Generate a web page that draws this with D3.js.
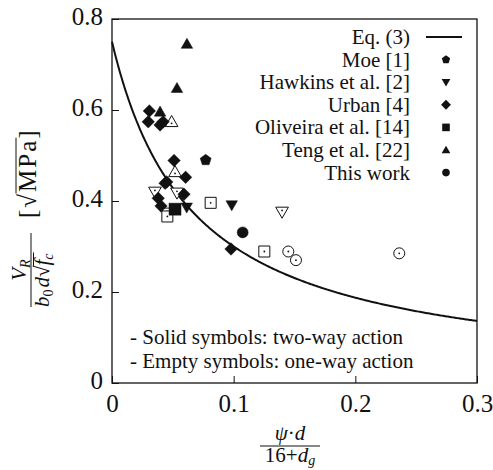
<!DOCTYPE html>
<html><head><meta charset="utf-8">
<script src="https://cdn.jsdelivr.net/npm/d3@7"></script>
<style>body{margin:0;background:#fff} svg text{font-family:"Liberation Serif","DejaVu Serif",serif;}</style>
</head><body><svg id="chart" width="493" height="470"></svg>
<script>
// Axis ticks
const xTicks = [0, 0.1, 0.2, 0.3];
const yTicks = [0, 0.2, 0.4, 0.6, 0.8];

// Test data [psi*d/(16+dg), V_R/(b0 d sqrt(fc))]
const moeSolid      = [[0.077, 0.490]];
const hawkinsSolid  = [[0.0984, 0.391], [0.0614, 0.386]];
const hawkinsEmpty  = [[0.0353, 0.420], [0.0534, 0.418], [0.1398, 0.376], [0.0452, 0.374]];
const urbanSolid    = [[0.0307, 0.598], [0.0298, 0.574], [0.0395, 0.567], [0.042, 0.574],
                       [0.051, 0.489], [0.0605, 0.452], [0.0436, 0.439], [0.045, 0.442],
                       [0.038, 0.406], [0.0403, 0.389], [0.0592, 0.415], [0.0978, 0.2945]];
const oliveiraSolid = [[0.0518, 0.382]];
const oliveiraEmpty = [[0.0455, 0.366], [0.0811, 0.396], [0.1252, 0.289]];
const tengSolid     = [[0.0616, 0.745], [0.0534, 0.648], [0.0395, 0.596]];
const tengEmpty     = [[0.049, 0.574], [0.0518, 0.464]];
const thisSolid     = [[0.1074, 0.331]];
const thisEmpty     = [[0.1449, 0.289], [0.1512, 0.270], [0.2361, 0.285]];

// Eq. (3): V_R/(b0 d sqrt(fc)) = a / (1 + b * psi d/(16+dg))
const eqA = 0.75, eqB = 15;

const legendLabels = ["Eq. (3)", "Moe [1]", "Hawkins et al. [2]", "Urban [4]",
                      "Oliveira et al. [14]", "Teng et al. [22]", "This work"];
const legendShapes = ["line", "pentagon", "triDown", "diamond", "square", "triUp", "circle"];

const svg = d3.select("#chart");
const mL = 112, mR = 477, mT = 19, mB = 383;
const x = d3.scaleLinear().domain([0, 0.3]).range([mL, mR]);
const y = d3.scaleLinear().domain([0, 0.8]).range([mB, mT]);

// marker path builders (centered on 0,0), s = half size
function shapePath(type, s) {
  const p = d3.path();
  if (type === "circle") { p.arc(0, 0, s, 0, 2 * Math.PI); }
  else if (type === "square") { p.rect(-s, -s, 2 * s, 2 * s); }
  else if (type === "diamond") { const d = s * 1.3; p.moveTo(0, -d); p.lineTo(d, 0); p.lineTo(0, d); p.lineTo(-d, 0); p.closePath(); }
  else if (type === "triUp" || type === "triDown") {
    const sg = type === "triUp" ? 1 : -1, h = s * 1.15;
    p.moveTo(0, -sg * h); p.lineTo(h, sg * h * 0.75); p.lineTo(-h, sg * h * 0.75); p.closePath();
  } else if (type === "pentagon") {
    const r = s * 1.15;
    for (let i = 0; i < 5; i++) {
      const a = -Math.PI / 2 + i * 2 * Math.PI / 5;
      i ? p.lineTo(r * Math.cos(a), r * Math.sin(a)) : p.moveTo(r * Math.cos(a), r * Math.sin(a));
    }
    p.closePath();
  }
  return p.toString();
}

const plot = svg.append("g");

// curve
const curvePts = d3.range(0, 0.3001, 0.001).map(v => [v, eqA / (1 + eqB * v)]);
plot.append("path")
  .attr("d", d3.line().x(d => x(d[0])).y(d => y(d[1]))(curvePts))
  .attr("fill", "none").attr("stroke", "#111").attr("stroke-width", 2);

function drawSet(data, type, filled, s) {
  const g = plot.append("g");
  const sel = g.selectAll("g").data(data).join("g")
    .attr("transform", d => `translate(${x(d[0])},${y(d[1])})`);
  sel.append("path").attr("d", shapePath(type, s))
    .attr("fill", filled ? "#111" : "#fff")
    .attr("stroke", "#111").attr("stroke-width", filled ? 0.5 : 1);
  if (!filled) {
    sel.append("circle").attr("r", 0.9).attr("cy", type === "triUp" ? 1.5 : type === "triDown" ? -1.5 : 0).attr("fill", "#111");
  }
}
drawSet(hawkinsEmpty, "triDown", false, 5.5);
drawSet(oliveiraEmpty, "square", false, 5.5);
drawSet(tengEmpty, "triUp", false, 5.5);
drawSet(thisEmpty, "circle", false, 5.5);
drawSet(urbanSolid, "diamond", true, 4.8);
drawSet(moeSolid, "pentagon", true, 5);
drawSet(hawkinsSolid, "triDown", true, 5);
drawSet(oliveiraSolid, "square", true, 6);
drawSet(tengSolid, "triUp", true, 5);
drawSet(thisSolid, "circle", true, 5.5);

// frame
svg.append("rect").attr("x", mL).attr("y", mT).attr("width", mR - mL).attr("height", mB - mT)
  .attr("fill", "none").attr("stroke", "#111").attr("stroke-width", 1.3);

// axes with inward ticks
const xAxis = svg.append("g").attr("transform", `translate(0,${mB})`)
  .call(d3.axisBottom(x).tickValues(xTicks).tickSize(-7).tickPadding(11).tickFormat(d => d === 0 ? "0" : d3.format(".1f")(d)));
const yAxis = svg.append("g").attr("transform", `translate(${mL},0)`)
  .call(d3.axisLeft(y).tickValues(yTicks).tickSize(-7).tickPadding(9).tickFormat(d => d === 0 ? "0" : d3.format(".1f")(d)));
[xAxis, yAxis].forEach(a => {
  a.select(".domain").remove();
  a.selectAll("line").attr("stroke", "#111").attr("stroke-width", 1);
  a.selectAll("text").attr("font-family", null).attr("font-size", 25).attr("fill", "#111");
});
xAxis.selectAll("text").attr("dy", "0.71em");
yAxis.selectAll("text").attr("dy", "0.2em");

// legend
const lg = svg.append("g");
legendLabels.forEach((lab, i) => {
  const yy = 37 + i * 22.6;
  lg.append("text").attr("x", 410).attr("y", yy).attr("dy", "0.33em")
    .attr("text-anchor", "end").attr("font-size", 21).attr("fill", "#111").text(lab);
  if (legendShapes[i] === "line") {
    lg.append("line").attr("x1", 426).attr("x2", 462).attr("y1", yy).attr("y2", yy).attr("stroke", "#111").attr("stroke-width", 2);
  } else {
    lg.append("path").attr("transform", `translate(446,${yy})`).attr("d", shapePath(legendShapes[i], 3.8)).attr("fill", "#111");
  }
});

// notes
const notes = ["- Solid symbols: two-way action", "- Empty symbols: one-way action"];
notes.forEach((t, i) => {
  svg.append("text").attr("x", 130).attr("y", 344 + i * 24).attr("font-size", 21).attr("fill", "#111").text(t);
});

// x label: psi·d / (16 + d_g)
const xl = svg.append("g").attr("transform", "translate(290,0)").attr("fill", "#111");
const xn = xl.append("text").attr("y", 440).attr("text-anchor", "middle").attr("font-size", 21);
xn.append("tspan").attr("font-style", "italic").text("ψ");
xn.append("tspan").text("·");
xn.append("tspan").attr("font-style", "italic").text("d");
xl.append("line").attr("x1", -30).attr("x2", 30).attr("y1", 446).attr("y2", 446).attr("stroke", "#111").attr("stroke-width", 1);
const xd = xl.append("text").attr("y", 462).attr("text-anchor", "middle").attr("font-size", 21);
xd.append("tspan").text("16+");
xd.append("tspan").attr("font-style", "italic").text("d");
xd.append("tspan").attr("font-size", 14).attr("font-style", "italic").attr("dy", 3).text("g");

// y label: V_R / (b0 d sqrt(fc)) [sqrt(MPa)], rotated
const yl = svg.append("g").attr("transform", "translate(31,270) rotate(-90)").attr("fill", "#111");
const yn = yl.append("text").attr("y", -5).attr("text-anchor", "middle").attr("font-size", 21);
yn.append("tspan").attr("font-style", "italic").text("V");
yn.append("tspan").attr("font-size", 14).attr("font-style", "italic").attr("dy", 4).text("R");
yl.append("line").attr("x1", -37).attr("x2", 37).attr("y1", 0).attr("y2", 0).attr("stroke", "#111").attr("stroke-width", 1);
const yd = yl.append("text").attr("x", -37).attr("y", 18).attr("font-size", 21);
yd.append("tspan").attr("font-style", "italic").text("b");
yd.append("tspan").attr("font-size", 14).attr("dy", 4).text("0");
yd.append("tspan").attr("font-style", "italic").attr("dy", -4).attr("dx", 2).text("d");
yd.append("tspan").text("√");
yd.append("tspan").attr("font-style", "italic").text("f");
yd.append("tspan").attr("font-size", 14).attr("font-style", "italic").attr("dy", 4).text("c");
// radical bar over f_c
{
  const n = yd.node();
  const e0 = n.getEndPositionOfChar(5).x;
  const r0 = n.getEndPositionOfChar(3).x;
  yl.append("line").attr("x1", r0 - 0.5).attr("x2", e0 + 1).attr("y1", 2.5).attr("y2", 2.5).attr("stroke", "#111").attr("stroke-width", 1);
}
const yu = yl.append("text").attr("x", 52).attr("y", 5).attr("font-size", 25).attr("letter-spacing", 2);
yu.append("tspan").text("[√");
yu.append("tspan").text("MPa]");
{
  const n = yu.node();
  const r1 = n.getStartPositionOfChar(2).x, e1 = n.getEndPositionOfChar(4).x;
  yl.append("line").attr("x1", r1 - 1.5).attr("x2", e1 + 1).attr("y1", 5 - 0.8 * 25).attr("y2", 5 - 0.8 * 25).attr("stroke", "#111").attr("stroke-width", 1);
}
</script>
</body></html>
